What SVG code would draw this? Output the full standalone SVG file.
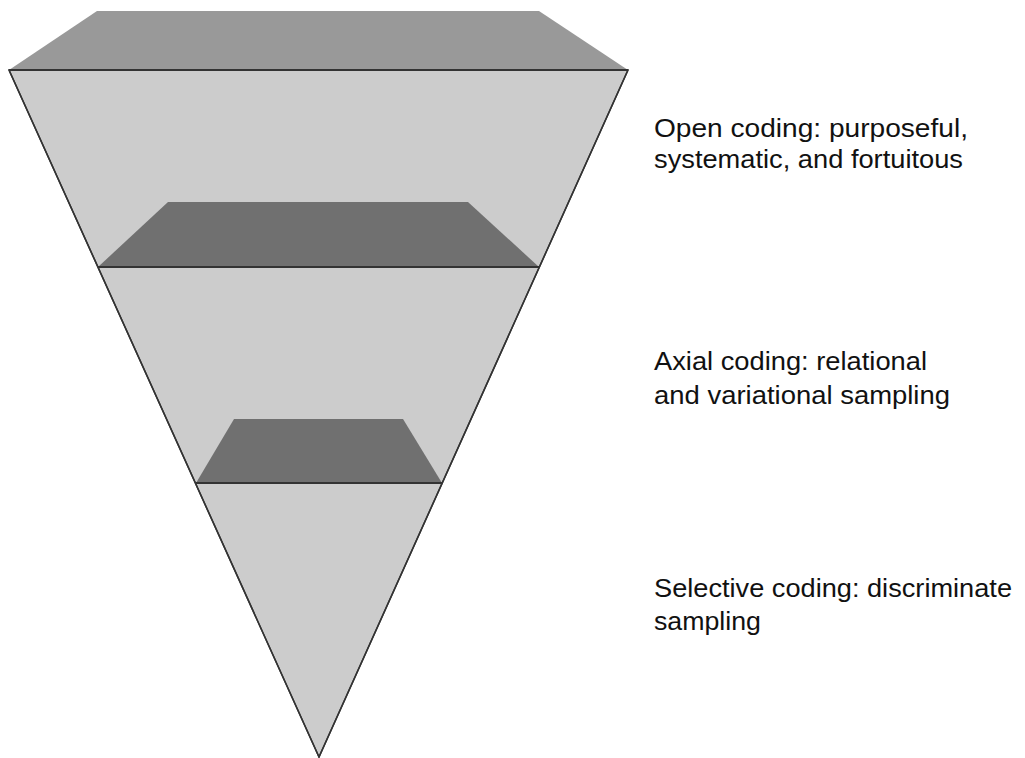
<svg xmlns="http://www.w3.org/2000/svg" width="1025" height="758" viewBox="0 0 1025 758">
  <style>
    .cone { fill: #cccccc; stroke: #333333; stroke-width: 1.5; stroke-linejoin: miter; }
    .lid { fill: #999999; }
    .plane { fill: #707070; }
    .rim { stroke: #333333; stroke-width: 1.8; }
    .label { font-family: "Liberation Sans", Arial, sans-serif; font-size: 26px; fill: #111111; }
  </style>
  <rect width="1025" height="758" fill="#ffffff"/>

  <!-- inverted cone body -->
  <g id="cone">
    <polygon class="cone" points="9,70 628,70 319,757"/>
  </g>

  <!-- top level: open coding -->
  <g id="level-open">
    <polygon class="lid" points="97,11 539,11 628,70 9,70"/>
    <line class="rim" x1="9" y1="70" x2="628" y2="70"/>
    <text class="label" x="654" y="137" textLength="314" lengthAdjust="spacingAndGlyphs">Open coding: purposeful,</text>
    <text class="label" x="654" y="168" textLength="309" lengthAdjust="spacingAndGlyphs">systematic, and fortuitous</text>
  </g>

  <!-- middle level: axial coding -->
  <g id="level-axial">
    <polygon class="plane" points="168,202 468,202 539,267 98,267"/>
    <line class="rim" x1="98" y1="267" x2="539" y2="267"/>
    <text class="label" x="654" y="370" textLength="273" lengthAdjust="spacingAndGlyphs">Axial coding: relational</text>
    <text class="label" x="654" y="404" textLength="296" lengthAdjust="spacingAndGlyphs">and variational sampling</text>
  </g>

  <!-- bottom level: selective coding -->
  <g id="level-selective">
    <polygon class="plane" points="234,419 403,419 442,483 196,483"/>
    <line class="rim" x1="196" y1="483" x2="442" y2="483"/>
    <text class="label" x="654" y="597" textLength="358" lengthAdjust="spacingAndGlyphs">Selective coding: discriminate</text>
    <text class="label" x="654" y="630" textLength="107" lengthAdjust="spacingAndGlyphs">sampling</text>
  </g>

  <!-- cone outline drawn over the planes -->
  <g id="connectors">
    <polyline points="9,70 319,757 628,70" fill="none" stroke="#333333" stroke-width="1.5"/>
  </g>
</svg>
